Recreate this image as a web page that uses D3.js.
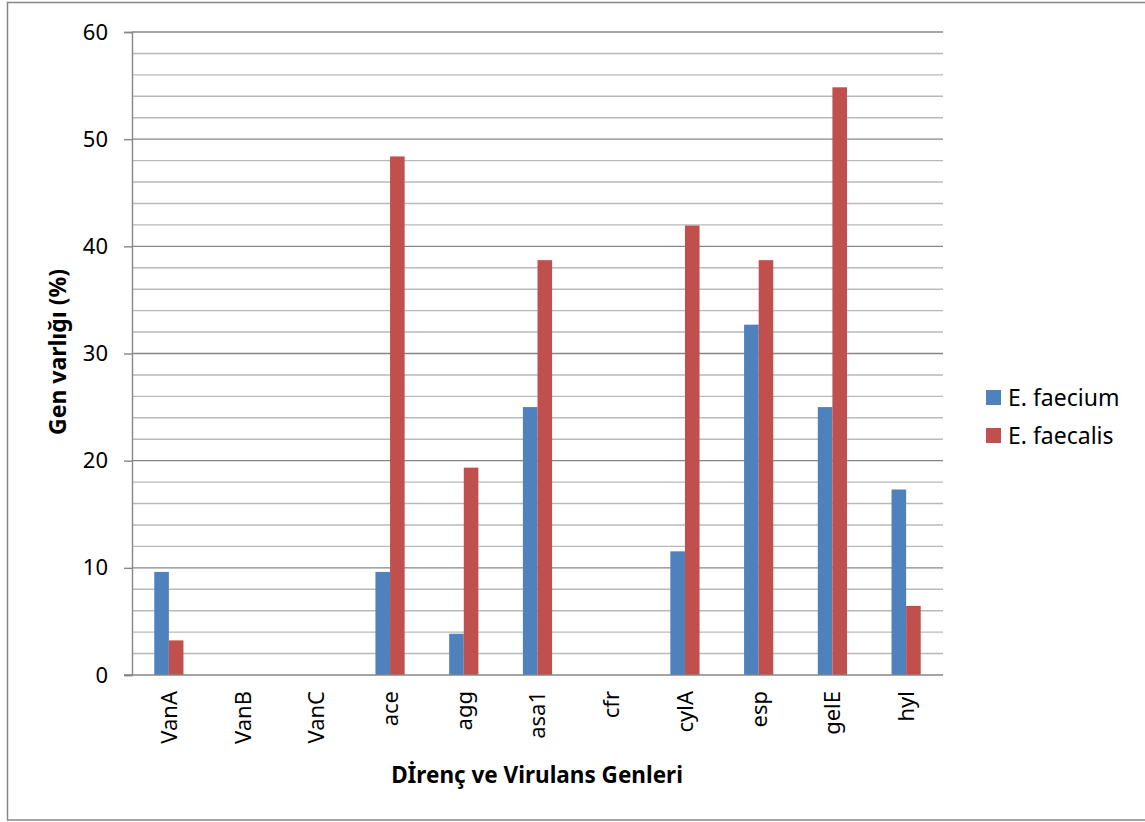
<!DOCTYPE html>
<html>
<head>
<meta charset="utf-8">
<script src="https://cdn.jsdelivr.net/npm/d3@7"></script>
<style>
  html, body { margin: 0; padding: 0; background: #fff; }
  svg { display: block; font-family: "Noto Sans", "Open Sans", sans-serif; }
</style>
</head>
<body>
<svg id="chart" width="1145" height="822"></svg>
<script>
// Gene categories on the x axis
const genes = ["VanA", "VanB", "VanC", "ace", "agg", "asa1", "cfr", "cylA", "esp", "gelE", "hyl"];
// Series names
const seriesNames = ["E. faecium", "E. faecalis"];
// Gene presence (%) per species
const faeciumValues = [9.62, 0, 0, 9.62, 3.85, 25.0, 0, 11.54, 32.69, 25.0, 17.31];
const faecalisValues = [3.23, 0, 0, 48.39, 19.35, 38.71, 0, 41.94, 38.71, 54.84, 6.45];
// Y axis labelled ticks
const yTicks = [0, 10, 20, 30, 40, 50, 60];
// Gridline steps (every 2 %)
const gridSteps = d3.range(0, 61, 2);

const seriesColors = ["#4F81BD", "#C0504D"];
const axisGray = "#868686";
const minorGray = "#b9b9b9";

const svg = d3.select("#chart");

// Outer chart frame
svg.append("rect")
  .attr("x", 7.5).attr("y", 2.5)
  .attr("width", 1150).attr("height", 817.5)
  .attr("fill", "#fff")
  .attr("stroke", axisGray).attr("stroke-width", 1.5);

const plot = { left: 132, right: 943, top: 32, bottom: 675 };

const x = d3.scaleBand().domain(genes).range([plot.left, plot.right]).padding(0);
const y = d3.scaleLinear().domain([0, 60]).range([plot.bottom, plot.top]);
const bw = x.bandwidth();
const xSub = d3.scaleBand().domain(seriesNames)
  .range([bw / 2 - 14.6, bw / 2 + 14.6]).padding(0);

// Horizontal gridlines: minor every 2, major every 10
svg.append("g").selectAll("line")
  .data(gridSteps.filter(d => d > 0))
  .join("line")
  .attr("x1", plot.left).attr("x2", plot.right)
  .attr("y1", d => y(d)).attr("y2", d => y(d))
  .attr("stroke", d => d % 10 === 0 ? axisGray : minorGray)
  .attr("stroke-width", 1.4);

// Bars
const rows = genes.map((g, i) => ({ gene: g, vals: [faeciumValues[i], faecalisValues[i]] }));
const groups = svg.append("g").selectAll("g")
  .data(rows)
  .join("g")
  .attr("transform", d => `translate(${x(d.gene)},0)`);

groups.selectAll("rect")
  .data(d => d.vals.map((v, k) => ({ name: seriesNames[k], v, k })))
  .join("rect")
  .filter(d => d.v > 0)
  .attr("x", d => xSub(d.name))
  .attr("width", xSub.bandwidth())
  .attr("y", d => y(d.v))
  .attr("height", d => y(0) - y(d.v))
  .attr("fill", d => seriesColors[d.k]);

// Y axis
const yAxis = svg.append("g")
  .attr("transform", `translate(${plot.left},0)`)
  .call(d3.axisLeft(y).tickValues(yTicks).tickSize(8).tickPadding(16).tickFormat(d3.format("d")));
yAxis.select(".domain").attr("stroke", axisGray).attr("stroke-width", 1.4);
yAxis.selectAll(".tick line").attr("stroke", axisGray).attr("stroke-width", 1.4);
yAxis.selectAll(".tick text")
  .attr("font-size", 22)
  .attr("font-family", "'Noto Sans', sans-serif")
  .attr("fill", "#000")
  .attr("x", -24);

// X axis
const xAxis = svg.append("g")
  .attr("transform", `translate(0,${plot.bottom})`)
  .call(d3.axisBottom(x).tickSize(0).tickSizeOuter(0));
xAxis.select(".domain").attr("stroke", axisGray).attr("stroke-width", 1.4)
  .attr("d", `M${plot.left - 8},0H${plot.right}`);
xAxis.selectAll(".tick text")
  .attr("font-size", 22)
  .attr("font-family", "'Noto Sans', sans-serif")
  .attr("fill", "#000")
  .attr("transform", "rotate(-90)")
  .attr("text-anchor", "end")
  .attr("x", -16)
  .attr("y", 0)
  .attr("dy", "0.36em");

// Axis titles
svg.append("text")
  .attr("x", 537)
  .attr("y", 783)
  .attr("text-anchor", "middle")
  .attr("font-size", 22.5)
  .attr("font-weight", "bold")
  .text("Dİrenç ve Virulans Genleri");

svg.append("text")
  .attr("transform", "translate(66,352) rotate(-90)")
  .attr("text-anchor", "middle")
  .attr("font-size", 23)
  .attr("font-weight", "bold")
  .text("Gen varlığı (%)");

// Legend
const legend = svg.append("g").selectAll("g")
  .data(seriesNames)
  .join("g")
  .attr("transform", (d, i) => `translate(986,${390 + i * 38})`);
legend.append("rect")
  .attr("width", 15).attr("height", 15)
  .attr("fill", (d, i) => seriesColors[i]);
legend.append("text")
  .attr("x", 22).attr("y", 8)
  .attr("dy", "0.36em")
  .attr("font-size", 23)
  .text(d => d);
</script>
</body>
</html>
